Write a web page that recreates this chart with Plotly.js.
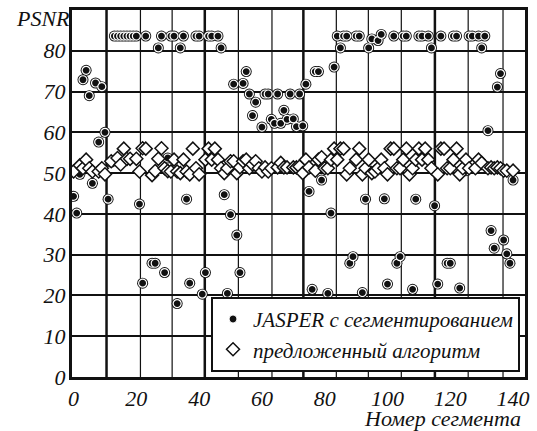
<!DOCTYPE html>
<html>
<head>
<meta charset="utf-8">
<script src="https://cdn.plot.ly/plotly-3.0.1.min.js"></script>
<style>html,body{margin:0;padding:0;background:#fff;}#chart{width:537px;height:431px;}
#chart svg text{font-family:'Times New Roman','Liberation Serif',serif !important;font-style:italic !important;}</style>
</head>
<body>
<div id="chart"></div>
<script>
// JASPER с сегментированием (segment number, PSNR)
const jasperX = [0,1,2,3,4,5,6,7,8,9,10,11,12,13,14,15,16,17,18,19,20,21,22,23,25,26,27,28,29,30,31,32,33,34,35,36,37,39,40,41,42,43,44,46,47,48,49,50,51,52,53,54,55,56,57,58,60,61,62,63,64,65,66,67,68,69,70,71,72,73,74,75,76,77,78,79,81,82,83,84,85,86,87,88,89,90,91,92,93,94,95,96,97,98,99,100,102,103,104,105,106,108,109,110,111,113,114,115,116,117,119,120,121,122,123,125,126,127,128,129,130,131,132,133,134,135,136,137,138,139,140];
const jasperY = [44.3,40.2,49.7,72.9,75.2,69.0,47.5,72.1,57.6,71.2,60.0,43.6,52.7,83.6,83.6,83.6,83.6,83.6,83.6,83.6,83.6,42.4,23.0,83.6,27.9,27.9,80.7,83.6,25.6,53.7,83.6,83.6,18.0,80.7,83.6,43.6,23.0,83.6,83.6,20.3,25.6,83.6,83.6,83.6,80.7,44.7,20.5,39.8,71.8,34.8,25.6,72.0,74.9,69.4,64.1,67.4,61.3,69.4,69.4,63.2,62.2,69.4,62.2,65.4,63.2,69.4,63.3,61.4,69.4,61.6,71.8,45.5,21.5,74.9,74.9,48.3,20.5,40.2,76.0,83.6,80.7,83.6,83.6,27.9,29.5,83.6,83.6,20.7,43.6,80.7,82.9,17.8,82.5,84.0,43.7,22.8,83.6,27.9,29.5,83.6,83.6,21.5,43.6,83.6,83.6,83.6,80.7,42.0,22.8,83.6,27.9,27.9,83.6,83.6,21.8,50.6,83.6,83.6,17.8,83.6,80.7,83.6,60.4,35.9,31.6,71.1,74.4,33.6,30.2,27.9,48.3];

// предложенный алгоритм (segment number, PSNR)
const proposedX = [0,2,3,4,5,6,8,9,10,12,14,15,16,17,18,20,21,22,23,25,26,27,28,29,30,31,32,33,34,35,36,37,38,39,40,42,43,44,45,46,47,48,49,50,51,52,53,54,55,56,57,58,59,60,61,62,63,65,66,67,68,70,71,72,73,74,75,77,78,79,80,81,82,83,84,85,86,87,88,90,91,92,93,94,95,96,97,98,99,100,101,102,103,104,105,106,107,108,109,110,111,112,113,114,116,117,118,119,120,121,122,123,124,125,126,128,129,130,132,133,134,135,136,137,138,140];
const proposedY = [50.4,51.9,51.2,53.3,51.2,50.4,50.4,51.2,49.7,52.9,53.7,52.1,56.0,53.5,53.5,53.5,50.4,56.1,56.0,49.5,50.5,53.5,56.1,51.2,50.5,50.4,53.3,50.4,50.0,53.3,50.4,49.7,56.0,51.2,49.7,53.3,56.0,53.3,56.0,53.3,51.2,50.0,51.2,52.9,52.9,50.0,51.4,52.9,53.3,51.2,52.1,52.9,51.2,50.4,51.4,50.4,51.2,51.4,52.5,51.4,51.4,51.4,51.4,51.6,50.0,53.3,51.4,50.6,53.3,53.9,51.2,51.2,53.3,56.0,53.3,56.0,56.0,49.7,51.2,53.3,56.0,49.7,51.2,53.3,50.0,50.4,51.2,53.3,51.2,49.7,56.0,56.0,51.2,51.2,53.3,56.0,49.7,51.2,53.3,56.0,53.3,56.0,53.3,51.2,49.7,56.0,56.0,51.2,51.2,53.3,56.0,49.7,51.2,53.3,51.2,51.2,53.3,52.5,51.2,51.4,51.2,51.4,51.2,50.6,50.6,50.6];

const xTickVals = [0,20,40,60,80,100,120,140];
const xTickText = ["0","20","40","60","80","100","120","140"];
const yTickVals = [0,10,20,30,40,50,60,70,80,90];
const yTickText = ["0","10","20","30","40","50","60","70","80","90"];
const seriesNames = ["JASPER с сегментированием", "предложенный алгоритм"];

// vertical grid lines (as drawn in the figure)
const gridThin = [21.3,31.4,52.5,63.2,83.7,93.9,104.4,125.7,136.8];
const gridThick = [10.5,41.8,73.2,115.1];

const FONT = "Times New Roman";

const traces = [
  {x: jasperX, y: jasperY, type: "scatter", mode: "markers", name: seriesNames[0],
   showlegend: false, hoverinfo: "skip",
   marker: {symbol: "circle", size: 11, color: "#111", line: {width: 0}}},
  {x: jasperX, y: jasperY, type: "scatter", mode: "markers", name: seriesNames[0],
   marker: {symbol: "circle", size: 8, color: "#111", line: {width: 1.2, color: "#fff"}}},
  {x: proposedX, y: proposedY, type: "scatter", mode: "markers", name: seriesNames[1],
   marker: {symbol: "diamond", size: 10, color: "#fff", line: {width: 1.5, color: "#111"}}}
];

const shapes = [];
gridThin.forEach(v => shapes.push({type: "line", xref: "x", yref: "paper", x0: v, x1: v, y0: 0, y1: 1,
  layer: "below", line: {color: "#111", width: 1.2}}));
gridThick.forEach(v => shapes.push({type: "line", xref: "x", yref: "paper", x0: v, x1: v, y0: 0, y1: 1,
  layer: "below", line: {color: "#111", width: 2.5}}));

const layout = {
  width: 537, height: 431,
  margin: {l: 72, r: 12, t: 10, b: 54},
  paper_bgcolor: "#fff", plot_bgcolor: "#fff",
  font: {family: FONT, color: "#111", size: 21, style: "italic"},
  showlegend: true,
  xaxis: {
    range: [-0.5, 143.8], tickmode: "array", tickvals: xTickVals, ticktext: xTickText,
    showgrid: false, zeroline: false, showline: true, linecolor: "#111", linewidth: 3, mirror: true,
    ticks: "", ticklabelstandoff: 0,
    tickfont: {family: FONT, size: 22, color: "#111", style: "italic"}
  },
  yaxis: {
    range: [0, 90], tickmode: "array", tickvals: yTickVals, ticktext: yTickText,
    showgrid: true, gridcolor: "#111", gridwidth: 2, zeroline: false,
    showline: true, linecolor: "#111", linewidth: 3, mirror: true,
    ticks: "", ticklabelstandoff: -1,
    tickfont: {family: FONT, size: 22, color: "#111", style: "italic"}
  },
  legend: {
    x: 0.989, y: 0.014, xanchor: "right", yanchor: "bottom",
    bgcolor: "#fff", bordercolor: "#111", borderwidth: 2,
    font: {family: FONT, size: 21, color: "#111", style: "italic"},
    itemwidth: 30, tracegroupgap: 0
  },
  shapes: shapes,
  annotations: [
    {text: "PSNR", xref: "paper", yref: "paper", x: -0.128, y: 0.978, xanchor: "left", yanchor: "middle",
     showarrow: false, font: {family: FONT, size: 22, color: "#111", style: "italic"}},
    {text: "Номер сегмента", xref: "paper", yref: "paper", x: 0.995, y: -0.112, xanchor: "right", yanchor: "middle",
     showarrow: false, font: {family: FONT, size: 22, color: "#111", style: "italic"}}
  ]
};

Plotly.newPlot("chart", traces, layout, {displayModeBar: false, staticPlot: true});
</script>
</body>
</html>
